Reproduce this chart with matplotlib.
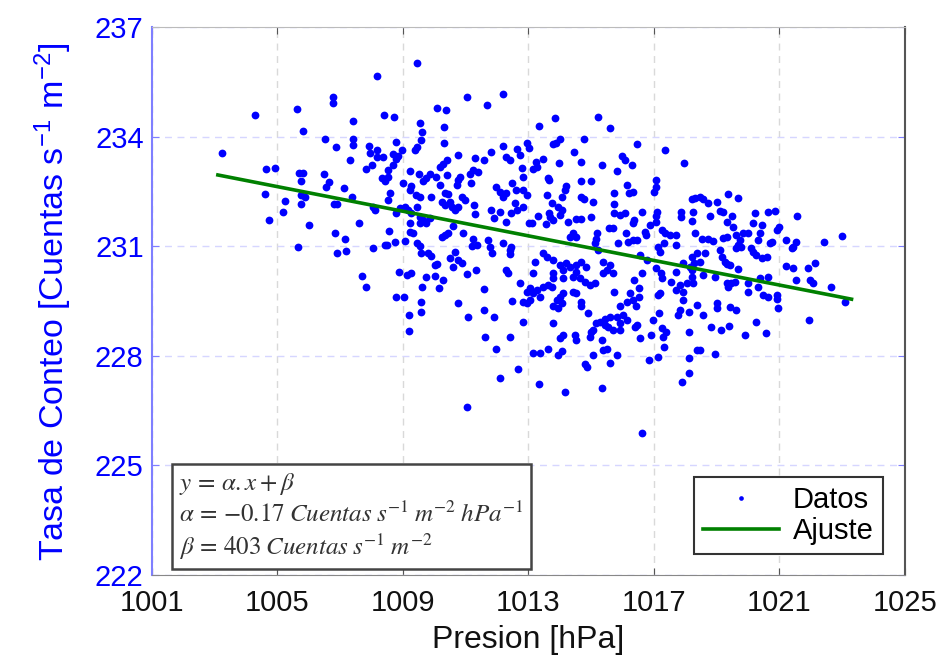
import numpy as np
import matplotlib
matplotlib.use("Agg")
import matplotlib.pyplot as plt

plt.rcParams['font.family'] = ['Liberation Sans', 'DejaVu Sans']
plt.rcParams['mathtext.fontset'] = 'stix'
plt.rcParams['axes.unicode_minus'] = False

# datos (presion en hPa, tasa en cuentas s-1 m-2)
presion = [
    1004.28, 1003.22, 1005.61, 1006.76, 1006.76, 1005.80, 1006.50, 1006.85, 1004.64, 1004.92,
    1005.69, 1005.82, 1005.74, 1006.48, 1006.64, 1006.55, 1004.61, 1005.24, 1005.74, 1005.89,
    1005.75, 1005.17, 1004.74, 1005.99, 1006.84, 1006.80, 1006.91, 1005.66, 1006.91,
    1009.46, 1008.16, 1011.05, 1011.69, 1012.20, 1010.07, 1010.36, 1008.39, 1008.71, 1007.40,
    1009.55, 1009.61, 1010.30, 1009.56, 1010.30, 1007.40, 1007.40, 1008.77, 1007.93, 1008.16,
    1007.95, 1008.18, 1008.37, 1008.69, 1008.85, 1008.78, 1008.96, 1007.31, 1007.82, 1008.00,
    1008.69, 1008.53, 1009.38, 1009.46, 1009.22, 1009.52, 1009.86, 1010.05, 1008.32, 1008.53,
    1008.42, 1009.01, 1010.18, 1010.28, 1010.41, 1010.41, 1010.77, 1011.30, 1011.59, 1011.82,
    1012.20, 1012.30, 1012.41, 1009.64, 1009.75, 1009.27, 1009.22, 1009.43, 1009.54, 1009.91,
    1010.18, 1010.34, 1010.44, 1010.71, 1010.76, 1010.82, 1011.13, 1011.24, 1011.40, 1011.18,
    1010.23, 1010.34, 1010.50, 1010.55, 1010.66, 1010.76, 1010.87, 1010.98, 1011.27, 1011.31,
    1011.98, 1012.09, 1012.20, 1012.30, 1012.49, 1011.82, 1011.90, 1012.09, 1012.30, 1012.46,
    1012.62, 1007.12, 1007.36, 1008.05, 1008.11, 1008.58, 1008.53, 1008.79, 1008.90, 1009.06,
    1009.17, 1009.27, 1009.45, 1009.54, 1009.64, 1009.75, 1009.54, 1009.86, 1007.61, 1008.56,
    1009.22, 1009.22, 1009.33, 1010.34, 1010.44, 1010.23, 1010.60, 1010.92, 1007.15, 1008.43,
    1008.75, 1009.06, 1009.46, 1011.24, 1011.35, 1011.72, 1011.77, 1012.20, 1012.46, 1008.04,
    1007.18, 1008.50, 1009.54, 1009.59, 1009.80, 1009.91, 1010.02, 1010.10, 1010.50, 1010.66,
    1010.76, 1010.87, 1010.60, 1011.21, 1011.84, 1012.41, 1012.41, 1007.71, 1007.82, 1008.88,
    1009.14, 1009.27, 1008.78, 1009.03, 1009.19, 1009.19, 1009.62, 1009.75, 1010.02, 1010.28,
    1010.14, 1009.57, 1009.57, 1011.03, 1011.32, 1010.76, 1011.08, 1011.58, 1011.59, 1011.90,
    1011.61, 1011.96, 1012.41, 1012.09, 1011.03, 1012.30, 1012.36, 1012.49, 1012.67,
    1013.34, 1013.86, 1015.22, 1015.61, 1014.00, 1013.87, 1013.77, 1012.96, 1013.02, 1012.64,
    1012.73, 1014.77, 1016.47, 1017.35, 1017.97, 1014.45, 1013.47, 1013.24, 1013.15, 1013.28,
    1013.98, 1014.67, 1015.34, 1015.99, 1016.08, 1016.31, 1015.81, 1012.81, 1012.83, 1013.63,
    1013.66, 1014.69, 1014.98, 1017.06, 1017.08, 1016.99, 1012.60, 1012.83, 1012.94, 1014.20,
    1014.16, 1014.06, 1013.74, 1013.58, 1014.69, 1014.77, 1015.05, 1015.73, 1015.73, 1016.13,
    1016.34, 1016.21, 1012.57, 1012.83, 1013.31, 1013.66, 1013.69, 1013.79, 1014.06, 1014.00,
    1013.95, 1014.53, 1014.69, 1014.98, 1015.73, 1015.91, 1016.08, 1016.32, 1016.36, 1016.61,
    1017.08, 1017.10, 1017.06, 1017.86, 1017.85, 1018.22, 1018.31, 1018.25, 1018.20, 1013.02,
    1013.10, 1013.56, 1014.27, 1014.43, 1014.53, 1014.32, 1015.19, 1015.17, 1015.12, 1015.23,
    1015.58, 1015.69, 1015.86, 1016.11, 1016.18, 1016.34, 1016.45, 1016.71, 1016.75, 1016.87,
    1017.25, 1017.35, 1017.51, 1017.70, 1017.72, 1017.32, 1017.14, 1017.19, 1018.31, 1018.20,
    1018.28, 1013.21, 1013.47, 1013.58, 1013.79, 1014.00, 1014.21, 1014.11, 1014.32, 1014.53,
    1014.69, 1014.53, 1014.85, 1015.38, 1015.60, 1015.49, 1015.70, 1015.38, 1016.55, 1016.77,
    1017.08, 1017.24, 1017.72, 1017.93, 1018.15, 1013.15, 1013.79, 1014.11, 1014.43,
    1012.73, 1012.94, 1013.05, 1013.15, 1013.26, 1013.37, 1013.47, 1013.63, 1013.74, 1012.83,
    1012.94, 1013.05, 1013.77, 1014.64, 1014.80, 1014.96, 1015.12, 1014.11, 1014.00, 1013.90,
    1014.06, 1013.79, 1013.95, 1014.43, 1014.53, 1014.69, 1014.69, 1014.91, 1012.83, 1013.79,
    1014.11, 1014.00, 1014.48, 1014.53, 1014.96, 1015.01, 1015.06, 1015.17, 1015.28, 1015.44,
    1015.60, 1015.81, 1016.02, 1016.13, 1015.92, 1015.70, 1015.54, 1015.92, 1015.44, 1015.33,
    1015.49, 1015.38, 1015.06, 1014.80, 1014.87, 1015.60, 1015.83, 1016.45, 1016.40, 1016.55,
    1016.43, 1016.53, 1016.23, 1016.13, 1016.34, 1015.73, 1015.92, 1016.36, 1016.51, 1016.63,
    1013.13, 1013.37, 1013.63, 1013.95, 1014.08, 1013.34, 1014.16, 1015.36, 1016.63, 1016.85,
    1017.12, 1017.25, 1017.19, 1017.14, 1017.17, 1016.98, 1016.92, 1017.25, 1017.30, 1017.40,
    1017.32, 1017.56, 1017.72, 1017.82, 1017.93, 1018.04, 1018.25, 1017.93, 1017.82, 1017.77,
    1018.12, 1018.12, 1018.36, 1018.12, 1018.12, 1017.91, 1018.20, 1018.20,
    1019.37, 1019.69, 1018.47, 1018.57, 1018.73, 1019.00, 1019.10, 1019.21, 1018.78, 1019.48,
    1019.32, 1019.53, 1020.22, 1020.16, 1020.43, 1020.64, 1020.86, 1021.00, 1020.93, 1021.57,
    1018.52, 1018.73, 1018.89, 1019.21, 1019.34, 1019.63, 1019.84, 1020.01, 1019.74, 1019.69,
    1019.79, 1019.63, 1020.11, 1020.38, 1020.32, 1020.16, 1020.27, 1020.43, 1020.59, 1020.70,
    1020.75, 1021.21, 1021.44, 1021.53, 1021.39, 1022.43, 1022.99, 1018.36, 1018.62, 1018.47,
    1019.10, 1019.16, 1019.26, 1019.32, 1019.42, 1019.69, 1018.57, 1018.94, 1019.32, 1019.37,
    1019.47, 1019.58, 1020.01, 1020.01, 1020.32, 1020.38, 1020.64, 1020.48, 1020.64, 1020.91,
    1020.93, 1020.96, 1021.21, 1021.42, 1021.92, 1022.13, 1021.54, 1021.99, 1022.07, 1022.66,
    1023.09, 1018.36, 1018.57, 1019.00, 1019.00, 1019.42, 1019.63, 1018.83, 1019.15, 1019.40,
    1019.90, 1020.27, 1020.57, 1021.95, 1018.47, 1018.96,
]
tasa = [
    234.59, 233.56, 234.76, 235.09, 234.91, 234.16, 233.93, 233.72, 233.10, 233.14,
    233.01, 233.01, 232.79, 232.99, 232.77, 232.63, 232.42, 232.24, 232.40, 232.35,
    232.15, 231.93, 231.71, 231.57, 231.35, 232.15, 232.15, 230.99, 230.81,
    236.01, 235.66, 235.09, 234.86, 235.17, 234.78, 234.73, 234.59, 234.54, 234.44,
    234.36, 234.13, 234.26, 233.91, 233.83, 233.93, 233.77, 233.86, 233.74, 233.63,
    233.54, 233.43, 233.43, 233.52, 233.47, 233.38, 233.63, 233.35, 233.12, 233.22,
    233.22, 233.09, 233.63, 233.72, 233.07, 232.98, 232.99, 232.90, 232.86, 232.90,
    232.79, 232.74, 233.17, 233.26, 233.35, 232.95, 233.50, 233.41, 233.35, 233.57,
    233.74, 233.45, 233.36, 232.79, 232.86, 232.65, 232.54, 232.40, 232.36, 232.36,
    232.68, 232.45, 232.43, 232.68, 232.81, 232.90, 232.99, 233.09, 233.04, 232.74,
    232.22, 232.13, 232.22, 232.08, 231.99, 232.08, 232.36, 232.27, 232.13, 231.88,
    232.63, 232.49, 232.36, 232.45, 232.72, 231.99, 231.76, 231.94, 231.67, 231.90,
    231.99, 232.58, 232.36, 232.08, 231.99, 232.45, 232.26, 231.90, 232.04, 232.08,
    231.99, 231.90, 232.08, 231.81, 231.72, 231.63, 231.63, 231.76, 231.63, 231.42,
    231.63, 231.40, 231.35, 231.31, 231.35, 231.26, 231.55, 231.35, 231.21, 231.03,
    231.12, 231.15, 231.08, 231.21, 231.03, 231.17, 230.99, 231.08, 230.99, 230.95,
    230.87, 231.03, 231.00, 230.81, 230.81, 230.73, 230.48, 230.51, 230.67, 230.85,
    230.62, 230.55, 230.44, 231.00, 230.82, 230.90, 230.79, 230.18, 229.89, 230.30,
    230.21, 230.26, 229.60, 229.62, 229.12, 228.69, 229.87, 230.17, 230.18, 230.07,
    229.85, 229.47, 229.21, 230.24, 230.35, 229.45, 229.05, 229.84, 229.26, 229.07,
    228.52, 228.20, 228.52, 227.38, 226.61, 230.35, 230.26, 229.51, 227.65,
    234.29, 234.51, 234.53, 234.23, 233.93, 233.83, 233.80, 233.83, 233.68, 233.65,
    233.50, 233.94, 233.79, 233.62, 233.29, 233.59, 233.38, 233.31, 233.10, 233.16,
    233.27, 233.31, 233.22, 233.47, 233.36, 233.22, 233.07, 233.13, 232.90, 232.88,
    232.81, 232.79, 232.79, 232.81, 232.63, 232.49, 232.54, 232.54, 232.40, 232.65,
    232.54, 232.34, 232.19, 232.40, 232.34, 232.28, 232.22, 232.45, 232.15, 232.68,
    232.49, 232.45, 232.17, 232.08, 231.83, 231.92, 231.81, 231.72, 231.99, 231.85,
    232.08, 231.74, 231.74, 231.81, 231.90, 231.85, 231.90, 231.64, 231.72, 231.94,
    231.83, 231.94, 231.67, 231.94, 231.81, 232.28, 232.31, 231.94, 231.70, 231.63,
    231.63, 231.61, 231.65, 231.37, 231.26, 231.26, 231.35, 231.21, 231.08, 230.90,
    231.49, 231.49, 231.10, 231.37, 231.12, 231.17, 231.17, 231.40, 231.31, 231.58,
    231.44, 231.35, 231.31, 231.31, 231.03, 231.08, 230.99, 230.85, 231.35, 230.71,
    230.55, 230.58, 230.81, 230.71, 230.62, 230.48, 230.53, 230.35, 230.44, 230.48,
    230.58, 230.30, 230.44, 230.58, 230.48, 230.35, 230.26, 230.26, 230.76, 230.62,
    230.39, 230.26, 230.30, 230.53, 230.44, 230.26, 230.26, 230.12, 230.17,
    229.98, 229.75, 229.85, 229.71, 229.80, 229.62, 229.89, 229.94, 229.89, 229.48,
    229.44, 229.53, 230.12, 230.12, 230.03, 229.94, 229.98, 229.71, 229.62, 229.53,
    229.44, 229.35, 229.30, 229.75, 229.71, 229.48, 229.35, 229.16, 228.93, 228.89,
    228.57, 228.48, 228.57, 228.43, 228.52, 228.66, 228.71, 228.89, 228.93, 229.02,
    229.07, 229.07, 229.12, 228.98, 228.89, 228.71, 228.80, 228.71, 228.84, 228.43,
    228.20, 228.16, 228.02, 227.78, 227.69, 227.81, 228.02, 228.84, 228.80, 228.48,
    229.35, 229.62, 229.71, 229.48, 229.53, 229.75, 229.35, 230.07, 229.85, 230.26,
    228.08, 228.08, 228.20, 228.02, 228.14, 227.23, 227.01, 227.13, 225.89, 227.88,
    227.97, 230.12, 229.71, 229.66, 229.16, 228.98, 228.57, 228.75, 228.52, 228.66,
    228.23, 230.03, 229.80, 229.94, 229.75, 229.98, 229.98, 229.53, 229.25, 229.12,
    229.21, 228.66, 228.16, 227.93, 227.52, 227.29, 230.35, 230.16,
    232.43, 232.31, 232.34, 232.28, 232.17, 232.22, 231.97, 231.94, 231.83, 231.83,
    231.67, 231.52, 231.92, 231.63, 231.58, 231.94, 231.97, 231.52, 231.44, 231.83,
    231.19, 231.19, 231.15, 231.22, 231.24, 231.31, 231.35, 231.35, 231.17, 231.03,
    230.99, 230.94, 230.94, 231.35, 231.17, 230.85, 230.76, 230.67, 230.71, 231.08,
    231.12, 231.17, 230.99, 231.12, 230.94, 231.11, 231.28, 230.81, 230.81, 230.58,
    230.90, 230.70, 230.58, 230.51, 230.48, 230.37, 230.21, 230.17, 229.98, 229.89,
    229.98, 230.03, 229.98, 229.75, 229.89, 230.12, 230.17, 229.66, 229.62, 229.66,
    229.55, 229.30, 230.46, 230.39, 230.39, 230.53, 230.07, 230.07, 229.98, 229.87,
    229.48, 229.39, 229.12, 229.44, 229.30, 229.34, 229.25, 228.80, 228.71, 228.82,
    228.57, 228.93, 228.63, 228.98, 228.16, 228.05,
]

# recta de ajuste (extremos)
ajuste_x = [1003.1, 1023.3]
ajuste_y = [232.95, 229.55]

xticks = [1001, 1005, 1009, 1013, 1017, 1021, 1025]
yticks = [222, 225, 228, 231, 234, 237]

azul = '#0000ff'

fig = plt.figure(figsize=(9.47, 6.65), dpi=100)
ax = fig.add_axes([0.1605, 0.1353, 0.795, 0.8241])

ax.plot(presion, tasa, 'o', color=azul, ms=5.6, mec='none', label='Datos', zorder=3)
ax.plot(ajuste_x, ajuste_y, '-', color='#008000', lw=2.6, label='Ajuste', zorder=4)

ax.set_xlim(1001, 1025)
ax.set_ylim(222, 237)
ax.set_xticks(xticks)
ax.set_yticks(yticks)
ax.tick_params(axis='x', direction='in', length=5, labelsize=21, colors='#555555',
               labelcolor='#111111', pad=10, top=True)
ax.tick_params(axis='y', direction='in', length=5, labelsize=21, colors='#7f7fff',
               labelcolor=azul, right=True, pad=6)

# rejilla: vertical gris, horizontal azul claro
ax.xaxis.grid(True, ls=(0, (5, 4)), color='#d9d9d9', lw=1)
ax.yaxis.grid(True, ls=(0, (5, 4)), color='#d6d6ff', lw=1)
ax.set_axisbelow(True)

ax.spines['left'].set_color('#7f7fff')
ax.spines['left'].set_linewidth(1.5)
ax.spines['right'].set_color('#555555')
ax.spines['right'].set_linewidth(1.5)
ax.spines['bottom'].set_color('#888888')
ax.spines['top'].set_color('#bbbbbb')

ax.set_xlabel('Presion [hPa]', fontsize=23, color='#111111', labelpad=6)
ax.set_ylabel('Tasa de Conteo [Cuentas s$^{\\mathregular{-1}}$ m$^{\\mathregular{-2}}$]',
              fontsize=24.5, color=azul, labelpad=16)

leg = ax.legend(loc='lower right', fontsize=21, frameon=True, fancybox=False,
                edgecolor='#333333', borderpad=0.3, handlelength=2.6,
                handletextpad=0.5, labelspacing=0.1, markerscale=0.6,
                bbox_to_anchor=(0.99, 0.012))
leg.get_frame().set_linewidth(1.5)
leg.get_frame().set_alpha(1)

texto = ("$y\\,=\\,\\alpha.x + \\beta$\n"
         "$\\alpha\\,=\\,{-}0.17\\;Cuentas\\;s^{-1}\\;m^{-2}\\;hPa^{-1}$\n"
         "$\\beta\\,=\\,403\\;Cuentas\\;s^{-1}\\;m^{-2}$")
ax.text(0.036, 0.024, texto, transform=ax.transAxes, fontsize=18, color='#333333',
        va='bottom', ha='left', linespacing=1.2,
        bbox=dict(boxstyle='square,pad=0.3', fc='white', ec='#444444', lw=1.8))

plt.savefig('out.png', dpi=100)
